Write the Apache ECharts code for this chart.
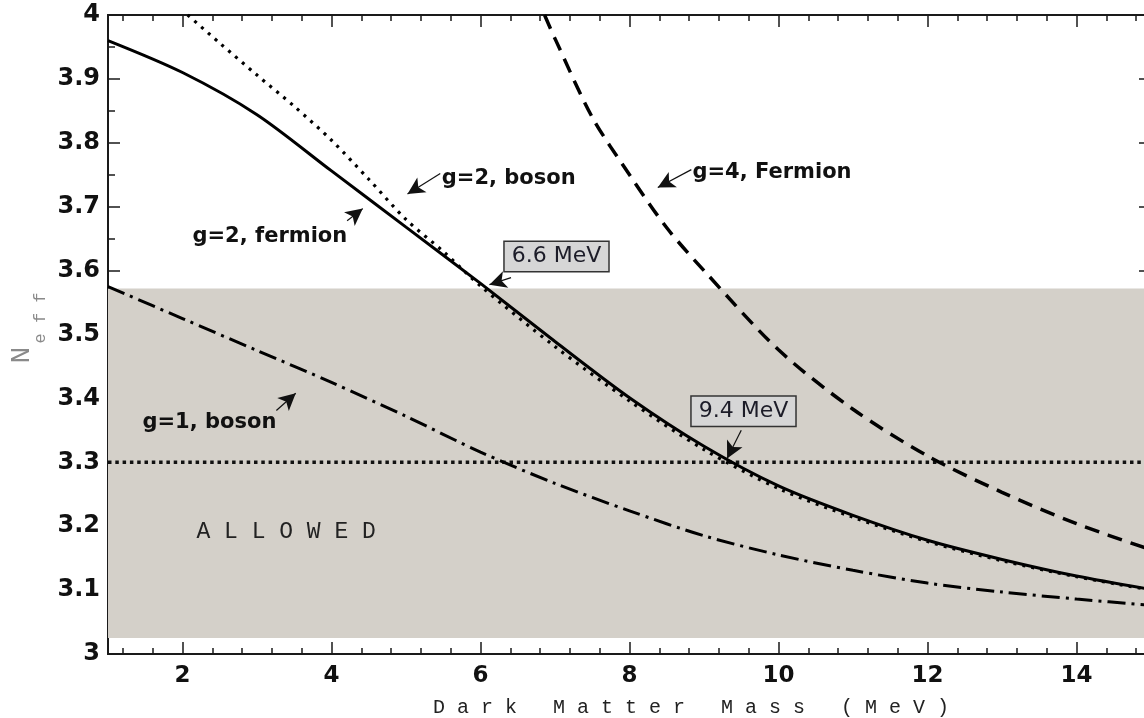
<!DOCTYPE html>
<html>
<head>
<meta charset="utf-8">
<script src="https://cdn.jsdelivr.net/npm/echarts@6/dist/echarts.min.js"></script>
<style>
html, body { margin: 0; padding: 0; background: #fff; }
#chart { width: 1144px; height: 718px; }
</style>
</head>
<body>
<div id="chart"></div>
<script>
// N_eff vs dark matter mass (MeV)
var fermion2X = [1, 2, 3, 4, 5, 6, 7, 8, 9, 10, 11, 12, 13, 14, 15];
var fermion2Y = [3.960, 3.910, 3.844, 3.756, 3.668, 3.580, 3.489, 3.401, 3.325, 3.263, 3.217, 3.178, 3.148, 3.122, 3.101];

var boson2X = [2.07, 2.5, 3, 3.5, 4, 4.5, 5, 5.5, 6, 7, 8, 9, 10, 11, 12, 13, 14, 15];
var boson2Y = [4.000, 3.956, 3.906, 3.857, 3.804, 3.743, 3.680, 3.630, 3.576, 3.481, 3.396, 3.320, 3.259, 3.214, 3.176, 3.146, 3.121, 3.100];

var fermion4X = [6.86, 7, 7.5, 8, 8.5, 9, 10, 11, 12, 13, 14, 15];
var fermion4Y = [4.000, 3.963, 3.840, 3.750, 3.667, 3.600, 3.476, 3.383, 3.310, 3.253, 3.204, 3.163];

var boson1X = [1, 2, 3, 4, 5, 6, 7, 8, 9, 10, 11, 12, 13, 14, 15];
var boson1Y = [3.575, 3.525, 3.475, 3.425, 3.372, 3.316, 3.267, 3.224, 3.185, 3.155, 3.131, 3.111, 3.097, 3.086, 3.076];

var bandY = [3.025, 3.572];
var limitY = 3.3;

var xTicks = [2, 4, 6, 8, 10, 12, 14];

var noteText = ['g=2, boson', 'g=4, Fermion', 'g=2, fermion', 'g=1, boson'];
var noteAt = [[5.48, 3.744], [8.845, 3.753], [2.134, 3.653], [1.463, 3.3625]];
var arrowFrom = [[5.46, 3.752], [8.83, 3.758], [4.21, 3.678], [3.26, 3.381], [6.41, 3.589], [9.50, 3.350]];
var arrowTo = [[5.02, 3.720], [8.38, 3.730], [4.42, 3.697], [3.52, 3.408], [6.12, 3.578], [9.31, 3.306]];
var boxText = ['6.6 MeV', '9.4 MeV'];
var boxAt = [[7.02, 3.622], [9.53, 3.380]];
var allowedAt = [2.187, 3.1906];

function pairs(xs, ys) {
    return xs.map(function (x, i) { return [x, ys[i]]; });
}

// minor ticks every 0.4 between the labelled ones
var xMinor = [1.2, 1.6];
xTicks.forEach(function (t) {
    for (var j = 1; j < 5; j++) {
        xMinor.push(Math.round((t + j * 0.4) * 10) / 10);
    }
});

var INK = '#1a1a1a';
var tickFont = 'DejaVu Sans';

function xAxisOf(pos, ticks, len, labels) {
    return {
        type: 'value', position: pos, min: 1, max: 15,
        axisLine: {show: true, lineStyle: {color: INK, width: 2}},
        axisTick: {show: true, inside: true, length: len, customValues: ticks, lineStyle: {color: INK, width: 1.5}},
        axisLabel: {show: labels, customValues: ticks, margin: 11, color: '#111',
            fontFamily: tickFont, fontWeight: 'bold', fontSize: 23},
        splitLine: {show: false}
    };
}

function yAxisOf(pos, labels) {
    return {
        type: 'value', position: pos, min: 3, max: 4, interval: 0.1,
        axisLine: {show: true, lineStyle: {color: INK, width: 2}},
        axisTick: {show: true, inside: true, length: 12, lineStyle: {color: INK, width: 1.5}},
        minorTick: {show: true, splitNumber: 2, length: 7, lineStyle: {color: INK, width: 1.5}},
        axisLabel: {show: labels, margin: 8, color: '#111',
            fontFamily: tickFont, fontWeight: 'bold', fontSize: 24},
        splitLine: {show: false},
        minorSplitLine: {show: false}
    };
}

function curve(name, xs, ys, type, width) {
    return {
        name: name, type: 'line', z: 3, smooth: 0.3,
        showSymbol: false, symbol: 'none', silent: true,
        data: pairs(xs, ys),
        lineStyle: {color: '#000', width: width, type: type}
    };
}

var labelStyle = {
    show: true, position: 'right', distance: 0, color: '#111',
    fontFamily: 'DejaVu Sans', fontWeight: 'bold', fontSize: 21
};

var notePoints = noteText.map(function (t, i) {
    return {coord: noteAt[i], label: Object.assign({}, labelStyle, {formatter: t})};
});
boxText.forEach(function (t, i) {
    notePoints.push({
        coord: boxAt[i],
        label: {
            show: true, position: 'inside', formatter: t, color: '#1c1c28',
            fontFamily: 'DejaVu Sans', fontSize: 22,
            backgroundColor: '#d6d6d6', borderColor: '#333', borderWidth: 1.5,
            padding: [4, 7, 3, 7]
        }
    });
});
notePoints.push({
    coord: allowedAt,
    label: {
        show: true, position: 'right', distance: 0, formatter: 'A L L O W E D',
        color: '#222', fontFamily: 'Liberation Mono', fontSize: 23
    }
});

var arrows = arrowFrom.map(function (p, i) {
    return [{coord: p}, {coord: arrowTo[i]}];
});

var chart = echarts.init(document.getElementById('chart'), null, {renderer: 'canvas'});

chart.setOption({
    animation: false,
    backgroundColor: '#fff',
    grid: {left: 108, top: 15, width: 1043, height: 639, containLabel: false, outerBoundsMode: 'none'},
    xAxis: [
        xAxisOf('bottom', xTicks, 12, true),
        xAxisOf('bottom', xMinor, 6, false),
        xAxisOf('top', xTicks, 12, false),
        xAxisOf('top', xMinor, 6, false)
    ],
    yAxis: [yAxisOf('left', true), yAxisOf('right', false)],
    graphic: [
        {
            type: 'text', x: 433, y: 708,
            style: {
                text: 'D a r k   M a t t e r   M a s s   ( M e V )',
                font: '20px "Liberation Mono"', fill: '#222',
                align: 'left', verticalAlign: 'middle', textAlign: 'left', textVerticalAlign: 'middle'
            }
        },
        {
            type: 'text', x: 22, y: 355, rotation: Math.PI / 2,
            style: {
                text: 'N', font: '28px "Liberation Mono"', fill: '#8a8a8a',
                align: 'center', verticalAlign: 'middle', textAlign: 'center', textVerticalAlign: 'middle'
            }
        },
        {
            type: 'text', x: 40, y: 318, rotation: Math.PI / 2,
            style: {
                text: 'e f f', font: '17px "Liberation Mono"', fill: '#8a8a8a',
                align: 'center', verticalAlign: 'middle', textAlign: 'center', textVerticalAlign: 'middle'
            }
        }
    ],
    series: [
        {
            name: 'allowed', type: 'line', z: 1, silent: true, data: [],
            markArea: {
                silent: true,
                itemStyle: {color: '#d4d0c9'},
                data: [[{yAxis: bandY[0]}, {yAxis: bandY[1]}]]
            }
        },
        {
            name: 'limit', type: 'line', z: 2, silent: true, symbol: 'none',
            data: [[1, limitY], [15, limitY]],
            lineStyle: {color: '#111', width: 3.5, type: [3.5, 3.8]}
        },
        curve('g=1, boson', boson1X, boson1Y, [18, 6, 3, 6], 3),
        curve('g=2, boson', boson2X, boson2Y, [3, 6], 3.2),
        curve('g=2, fermion', fermion2X, fermion2Y, 'solid', 3),
        curve('g=4, Fermion', fermion4X, fermion4Y, [15, 9], 3.5),
        {
            name: 'notes', type: 'line', z: 5, silent: true, data: [],
            markLine: {
                silent: true,
                symbol: ['none', 'arrow'],
                symbolSize: [13, 17],
                label: {show: false},
                lineStyle: {color: '#111', width: 1.2, type: 'solid'},
                data: arrows
            },
            markPoint: {
                silent: true,
                symbol: 'circle',
                symbolSize: 0,
                data: notePoints
            }
        }
    ]
});
</script>
</body>
</html>
